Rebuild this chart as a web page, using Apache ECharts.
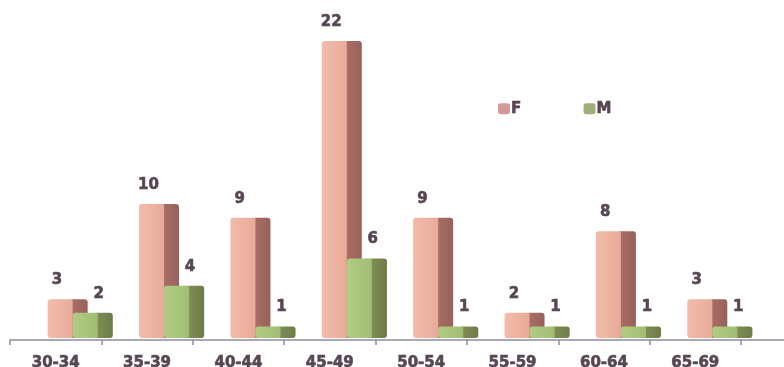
<!DOCTYPE html>
<html>
<head>
<meta charset="utf-8">
<script src="https://cdn.jsdelivr.net/npm/echarts@6/dist/echarts.min.js"></script>
<style>
  html, body { margin: 0; padding: 0; background: #ffffff; }
  #chart { width: 784px; height: 367px; }
</style>
</head>
<body>
<div id="chart"></div>
<script>
// Age groups and head counts per sex
var ageGroups = ['30-34', '35-39', '40-44', '45-49', '50-54', '55-59', '60-64', '65-69'];
var femaleCounts = [3, 10, 9, 22, 9, 2, 8, 3];
var maleCounts = [2, 4, 1, 6, 1, 1, 1, 1];

var TEXT_COLOR = '#574653';
var FONT = 'DejaVu Sans';

// Colour sets for the pseudo-3D columns: front face and side face
var palettes = {
  F: {
    front: new echarts.graphic.LinearGradient(0, 0, 1, 0, [
      { offset: 0, color: '#f2bcaa' }, { offset: 1, color: '#e9aa98' }
    ]),
    side: new echarts.graphic.LinearGradient(0, 0, 1, 0, [
      { offset: 0, color: '#ab6e66' }, { offset: 1, color: '#96625b' }
    ]),
    legend: '#d39a98'
  },
  M: {
    front: new echarts.graphic.LinearGradient(0, 0, 1, 0, [
      { offset: 0, color: '#b1cd85' }, { offset: 1, color: '#a0bd72' }
    ]),
    side: new echarts.graphic.LinearGradient(0, 0, 1, 0, [
      { offset: 0, color: '#808f56' }, { offset: 1, color: '#6e7b49' }
    ]),
    legend: '#9fae7a'
  }
};

// Offsets (in fractions of the category band) of each column relative to the band centre
var layout = {
  F: { front0: -0.088, front1: 0.186, side1: 0.35, labelDx: 0.015 },
  M: { front0: 0.186, front1: 0.46, side1: 0.625, labelDx: 0.47 }
};

function makeRender(key) {
  var lay = layout[key];
  var pal = palettes[key];
  return function (params, api) {
    var idx = api.value(0);
    var val = api.value(1);
    var top = api.coord([idx, val]);
    var base = api.coord([idx, 0]);
    var bw = api.size([1, 0])[0];
    var cx = top[0];
    var y0 = base[1] - 2;
    var y1 = top[1];
    var h = Math.max(y0 - y1, 2);
    var fx0 = cx + lay.front0 * bw;
    var fx1 = cx + lay.front1 * bw;
    var sx1 = cx + lay.side1 * bw;
    return {
      type: 'group',
      children: [
        {
          type: 'rect',
          shape: { x: fx1 - 2, y: y1, width: sx1 - fx1 + 2, height: h, r: [1, 3, 3, 1] },
          style: { fill: pal.side }
        },
        {
          type: 'rect',
          shape: { x: fx0, y: y1, width: fx1 - fx0, height: h, r: [3, 1, 1, 3] },
          style: { fill: pal.front }
        },
        {
          type: 'text',
          style: {
            text: String(val),
            x: cx + lay.labelDx * bw,
            y: y1 - 19,
            align: 'center',
            verticalAlign: 'middle',
            fill: TEXT_COLOR,
            stroke: TEXT_COLOR,
            lineWidth: 0.6,
            font: 'bold 15px "' + FONT + '"'
          }
        }
      ]
    };
  };
}

var chart = echarts.init(document.getElementById('chart'), null, { renderer: 'canvas' });

chart.setOption({
  animation: false,
  backgroundColor: '#ffffff',
  grid: { left: 10, right: 43, top: 41, bottom: 27, containLabel: false, outerBoundsMode: 'none' },
  legend: {
    left: 493,
    top: 96,
    itemWidth: 12,
    itemHeight: 11,
    itemGap: 62,
    icon: 'roundRect',
    data: ['F', 'M'],
    textStyle: {
      color: TEXT_COLOR, fontFamily: FONT, fontWeight: 'bold', fontSize: 15,
      textBorderColor: TEXT_COLOR, textBorderWidth: 0.6, padding: [0, 0, 0, -4]
    }
  },
  xAxis: {
    type: 'category',
    data: ageGroups,
    boundaryGap: true,
    axisLine: { show: true, lineStyle: { color: '#8e8c9a', width: 1.5 } },
    axisTick: { show: true, length: 5, alignWithLabel: false, lineStyle: { color: '#8e8c9a', width: 1.5 } },
    axisLabel: {
      margin: 16,
      color: TEXT_COLOR,
      fontFamily: FONT,
      fontWeight: 'bold',
      fontSize: 15,
      textBorderColor: TEXT_COLOR,
      textBorderWidth: 0.6
    },
    splitLine: { show: false }
  },
  yAxis: {
    type: 'value',
    min: 0,
    max: 22,
    show: false,
    splitLine: { show: false }
  },
  graphic: [
    {
      // floor edge continuing past the last category
      type: 'line',
      shape: { x1: 741, y1: 340, x2: 784, y2: 340 },
      style: { stroke: '#8e8c9a', lineWidth: 1.5 }
    }
  ],
  series: [
    {
      name: 'F',
      type: 'custom',
      itemStyle: { color: palettes.F.legend },
      encode: { x: 0, y: 1 },
      data: femaleCounts.map(function (v, i) { return [i, v]; }),
      renderItem: makeRender('F'),
      z: 2
    },
    {
      name: 'M',
      type: 'custom',
      itemStyle: { color: palettes.M.legend },
      encode: { x: 0, y: 1 },
      data: maleCounts.map(function (v, i) { return [i, v]; }),
      renderItem: makeRender('M'),
      z: 3
    }
  ]
});
</script>
</body>
</html>
